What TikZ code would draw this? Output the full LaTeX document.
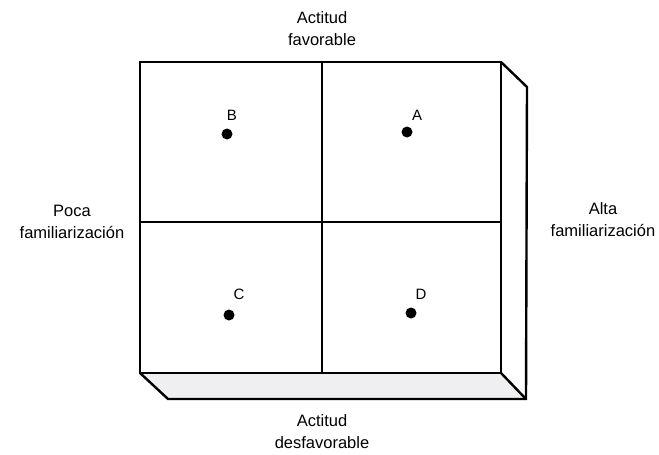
\documentclass[tikz,border=0pt]{standalone}
\usepackage{fontspec}
\setmainfont{Liberation Sans}
\usetikzlibrary{positioning}

\begin{document}
\begin{tikzpicture}[
  x=1pt, y=-1pt,
  axislabel/.style={align=center, font=\fontsize{16.5}{22}\selectfont, inner sep=0pt},
  ptlabel/.style={font=\fontsize{15}{18}\selectfont, inner sep=0pt},
  dot/.style={circle, fill=black, minimum size=11pt, inner sep=0pt},
  edge/.style={line width=2.4pt, line join=miter},
  mid/.style={line width=1.1pt}
]
\useasboundingbox (0,0) rectangle (659,455);
% corners of the front face and its depth
\coordinate (tl) at (140,62);
\coordinate (tr) at (501,62);
\coordinate (bl) at (140,373);
\coordinate (br) at (501,373);
\coordinate (tr2) at (527,87);
\coordinate (br2) at (526,399);
\coordinate (bl2) at (168,399);
% bottom and side faces
\fill[blue!6!gray!12] (bl) -- (bl2) -- (br2) -- (br) -- cycle;
\draw[edge] (tr) -- (tr2) -- (br2) -- (bl2) -- (bl);
\draw[edge] (br) -- (br2);
\draw[edge] (tl) rectangle (br);
% quadrant lines
\coordinate (mt) at (322,62);
\coordinate (mb) at (322,373);
\coordinate (ml) at (140,222);
\coordinate (mr) at (501,222);
\draw[mid] (mt) -- (mb);
\draw[mid] (ml) -- (mr);
% points
\node[dot] (dotB) at (227,134) {};
\node[dot] (dotA) at (407,132) {};
\node[dot] (dotC) at (229,315) {};
\node[dot] (dotD) at (411,313) {};
\node[ptlabel] (labB) at (232,115) {B};
\node[ptlabel] (labA) at (417,115) {A};
\node[ptlabel] (labC) at (239,294) {C};
\node[ptlabel] (labD) at (421,294) {D};
% axis labels
\node[axislabel] (fav) at (322,29) {Actitud\\favorable};
\node[axislabel] (desfav) at (322,432) {Actitud\\desfavorable};
\node[axislabel] (poca) at (72,222) {Poca\\familiarización};
\node[axislabel] (alta) at (603,220) {Alta\\familiarización};
\end{tikzpicture}
\end{document}
